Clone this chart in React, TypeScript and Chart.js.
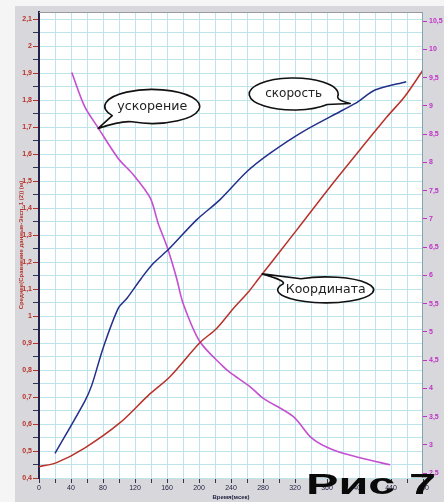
import React, { useEffect, useRef } from "react";
import { Chart, registerables } from "chart.js";
Chart.register(...registerables);

// ---- data ----
const coordTime = [0, 22, 57, 101, 137, 164, 201, 222, 243, 262, 274, 322, 364, 401, 435, 457, 480];
const coordValues = [0.442, 0.457, 0.511, 0.604, 0.707, 0.776, 0.901, 0.954, 1.028, 1.09, 1.136, 1.318, 1.479, 1.615, 1.738, 1.812, 1.911];

const speedTime = [20, 57, 66, 80, 99, 110, 128, 143, 162, 197, 226, 260, 289, 330, 380, 399, 420, 459];
const speedValues = [0.491, 0.683, 0.744, 0.88, 1.028, 1.066, 1.14, 1.195, 1.247, 1.356, 1.43, 1.535, 1.603, 1.683, 1.763, 1.794, 1.837, 1.868];

const accelTime = [41, 57, 74, 99, 118, 139, 149, 160, 172, 180, 201, 230, 239, 264, 280, 318, 341, 368, 405, 439];
const accelValues = [9.59, 8.99, 8.61, 8.07, 7.78, 7.37, 6.92, 6.51, 5.95, 5.51, 4.83, 4.39, 4.28, 4.03, 3.83, 3.5, 3.12, 2.91, 2.76, 2.65];

const xTickValues = [0, 20, 40, 60, 80, 100, 120, 140, 160, 180, 200, 220, 240, 260, 280, 300, 320, 340, 360, 380, 400, 420, 440, 460, 480];
const leftTickValues = [0.4, 0.45, 0.5, 0.55, 0.6, 0.65, 0.7, 0.75, 0.8, 0.85, 0.9, 0.95, 1, 1.05, 1.1, 1.15, 1.2, 1.25, 1.3, 1.35, 1.4, 1.45, 1.5, 1.55, 1.6, 1.65, 1.7, 1.75, 1.8, 1.85, 1.9, 1.95, 2, 2.05, 2.1];
const rightTickValues = [2.5, 3, 3.5, 4, 4.5, 5, 5.5, 6, 6.5, 7, 7.5, 8, 8.5, 9, 9.5, 10, 10.5];

const xTitle = "Время(мсек)";
const yTitle = "Среднее(Сравнение данные-Эксп. 1 (2)) (м)";
const labelAccel = "ускорение";
const labelSpeed = "скорость";
const labelCoord = "Координата";
const figureLabel = "Рис 7";

const RED = "#b8322a";
const BLUE = "#23308a";
const MAGENTA = "#c44fd0";
const GRID = "#bde3eb";

function comma(v: number): string {
  return String(Math.round(v * 10) / 10).replace(".", ",");
}

function drawBubble(
  ctx: CanvasRenderingContext2D,
  tipX: number,
  tipY: number,
  cx: number,
  cy: number,
  rx: number,
  ry: number,
  text: string,
  targetWidth: number
) {
  const phi = Math.atan2((tipY - cy) / ry, (tipX - cx) / rx);
  const spread = 0.28;
  ctx.save();
  ctx.beginPath();
  ctx.ellipse(cx, cy, rx, ry, 0, phi + spread, phi - spread + Math.PI * 2);
  ctx.quadraticCurveTo(
    cx + Math.cos(phi - spread * 0.2) * rx * 1.05,
    cy + Math.sin(phi - spread * 0.2) * ry * 1.05,
    tipX,
    tipY
  );
  ctx.closePath();
  ctx.fillStyle = "#ffffff";
  ctx.fill();
  ctx.lineWidth = 1.6;
  ctx.strokeStyle = "#111111";
  ctx.lineJoin = "round";
  ctx.stroke();
  let size = 12;
  ctx.font = `${size}px "DejaVu Sans"`;
  const w = ctx.measureText(text).width;
  size = (size * targetWidth) / w;
  ctx.font = `${size}px "DejaVu Sans"`;
  ctx.fillStyle = "#222222";
  ctx.textAlign = "center";
  ctx.textBaseline = "middle";
  ctx.fillText(text, cx, cy);
  ctx.restore();
}

const decorPlugin = {
  id: "decor",
  beforeDraw(chart: any) {
    const { ctx, chartArea: a } = chart;
    ctx.save();
    ctx.fillStyle = "#f5f5f5";
    ctx.fillRect(0, 0, chart.width, chart.height);
    ctx.fillStyle = "#d8d8dc";
    ctx.fillRect(15, 6, chart.width - 15, chart.height - 6);
    ctx.fillStyle = "#ffffff";
    ctx.fillRect(a.left, a.top, a.right - a.left, a.bottom - a.top);
    ctx.restore();
  },
  afterDatasetsDraw(chart: any) {
    const { ctx, chartArea: a, scales } = chart;
    ctx.save();
    ctx.strokeStyle = "#9a9aa0";
    ctx.lineWidth = 1;
    ctx.beginPath();
    ctx.moveTo(a.left, a.top + 0.5);
    ctx.lineTo(a.right, a.top + 0.5);
    ctx.moveTo(a.right - 0.5, a.top);
    ctx.lineTo(a.right - 0.5, a.bottom);
    ctx.stroke();
    ctx.restore();

    const x = scales.x;
    const yl = scales.yL;
    const yr = scales.yR;
    // acceleration bubble
    let tx = x.getPixelForValue(74);
    let ty = yr.getPixelForValue(8.6);
    drawBubble(ctx, tx, ty, tx + 54, ty - 22, 47.5, 17, labelAccel, 70);
    // speed bubble
    tx = x.getPixelForValue(389);
    ty = yl.getPixelForValue(1.787);
    drawBubble(ctx, tx, ty, tx - 56.5, ty - 9.5, 44.5, 16, labelSpeed, 57);
    // coordinate bubble
    tx = x.getPixelForValue(279);
    ty = yl.getPixelForValue(1.156);
    drawBubble(ctx, tx, ty, tx + 63.5, ty + 16, 48, 13, labelCoord, 80);
  },
  afterDraw(chart: any) {
    const { ctx } = chart;
    ctx.save();
    ctx.font = 'bold 30px "Liberation Sans"';
    const w = ctx.measureText(figureLabel).width;
    const sx = 130 / w;
    ctx.translate(306, 494);
    ctx.scale(sx, 1);
    ctx.fillStyle = "#0a0a0a";
    ctx.textBaseline = "alphabetic";
    ctx.fillText(figureLabel, 0, 0);
    ctx.restore();
  },
};

export default function App() {
  const canvasRef = useRef<HTMLCanvasElement | null>(null);

  useEffect(() => {
    if (!canvasRef.current) return;
    const chart = new Chart(canvasRef.current, {
      type: "line",
      data: {
        datasets: [
          {
            label: "Координата",
            data: coordTime.map((t, i) => ({ x: t, y: coordValues[i] })),
            borderColor: RED,
            borderWidth: 1.5,
            pointRadius: 0,
            tension: 0.3,
            yAxisID: "yL",
          },
          {
            label: "Скорость",
            data: speedTime.map((t, i) => ({ x: t, y: speedValues[i] })),
            borderColor: BLUE,
            borderWidth: 1.5,
            pointRadius: 0,
            tension: 0.3,
            yAxisID: "yL",
          },
          {
            label: "Ускорение",
            data: accelTime.map((t, i) => ({ x: t, y: accelValues[i] })),
            borderColor: MAGENTA,
            borderWidth: 1.6,
            pointRadius: 0,
            tension: 0.3,
            yAxisID: "yR",
          },
        ],
      },
      options: {
        animation: false,
        responsive: false,
        layout: { padding: { left: 15, top: 12, right: 0, bottom: 0 } },
        plugins: {
          legend: { display: false },
          tooltip: { enabled: false },
        },
        scales: {
          x: {
            type: "linear",
            min: 0,
            max: 480,
            afterBuildTicks: (s: any) => {
              s.ticks = xTickValues.map((v) => ({ value: v }));
            },
            afterFit: (s: any) => {
              s.height = 24;
            },
            ticks: {
              autoSkip: false,
              maxRotation: 0,
              padding: 1,
              color: "#222244",
              font: { size: 7, family: "Liberation Sans" },
              callback: (v: any) => (Number(v) % 40 === 0 ? String(v) : ""),
            },
            grid: {
              color: GRID,
              lineWidth: 1,
              tickLength: 5,
              tickColor: "#333344",
            },
            border: { color: GRID, width: 1 },
            title: {
              display: true,
              text: xTitle,
              color: "#222244",
              font: { size: 6, weight: "bold", family: "Liberation Sans" },
              padding: { top: 0, bottom: 1 },
            },
          },
          yL: {
            type: "linear",
            position: "left",
            min: 0.4,
            max: 2.126,
            afterBuildTicks: (s: any) => {
              s.ticks = leftTickValues.map((v) => ({ value: v }));
            },
            afterFit: (s: any) => {
              s.width = 24;
            },
            ticks: {
              autoSkip: false,
              padding: 1,
              color: RED,
              font: { size: 7, weight: "bold", family: "Liberation Sans" },
              callback: (v: any) =>
                Math.round(Number(v) * 100) % 10 === 0 ? comma(Number(v)) : "",
            },
            grid: {
              color: GRID,
              lineWidth: 1,
              tickLength: 6,
              tickColor: (c: any) =>
                c.tick && Math.round(c.tick.value * 100) % 10 === 0 ? RED : "#333355",
            },
            border: { color: "#22224a", width: 2 },
            title: {
              display: true,
              text: yTitle,
              color: RED,
              font: { size: 6, weight: "bold", family: "Liberation Sans" },
              padding: { top: 3, bottom: 0 },
            },
          },
          yR: {
            type: "linear",
            position: "right",
            min: 2.416,
            max: 10.66,
            afterBuildTicks: (s: any) => {
              s.ticks = rightTickValues.map((v) => ({ value: v }));
            },
            afterFit: (s: any) => {
              s.width = 21;
            },
            ticks: {
              autoSkip: false,
              padding: 2,
              color: "#c030c8",
              font: { size: 7, weight: "bold", family: "Liberation Sans" },
              callback: (v: any) => String(v).replace(".", ","),
            },
            grid: {
              drawOnChartArea: false,
              tickLength: 4,
              tickColor: "#c030c8",
            },
            border: { display: false },
          },
        },
      },
      plugins: [decorPlugin],
    } as any);
    return () => chart.destroy();
  }, []);

  return (
    <div style={{ position: "absolute", left: 0, top: 0, width: 444, height: 502 }}>
      <canvas ref={canvasRef} width={444} height={502} style={{ display: "block" }} />
    </div>
  );
}
